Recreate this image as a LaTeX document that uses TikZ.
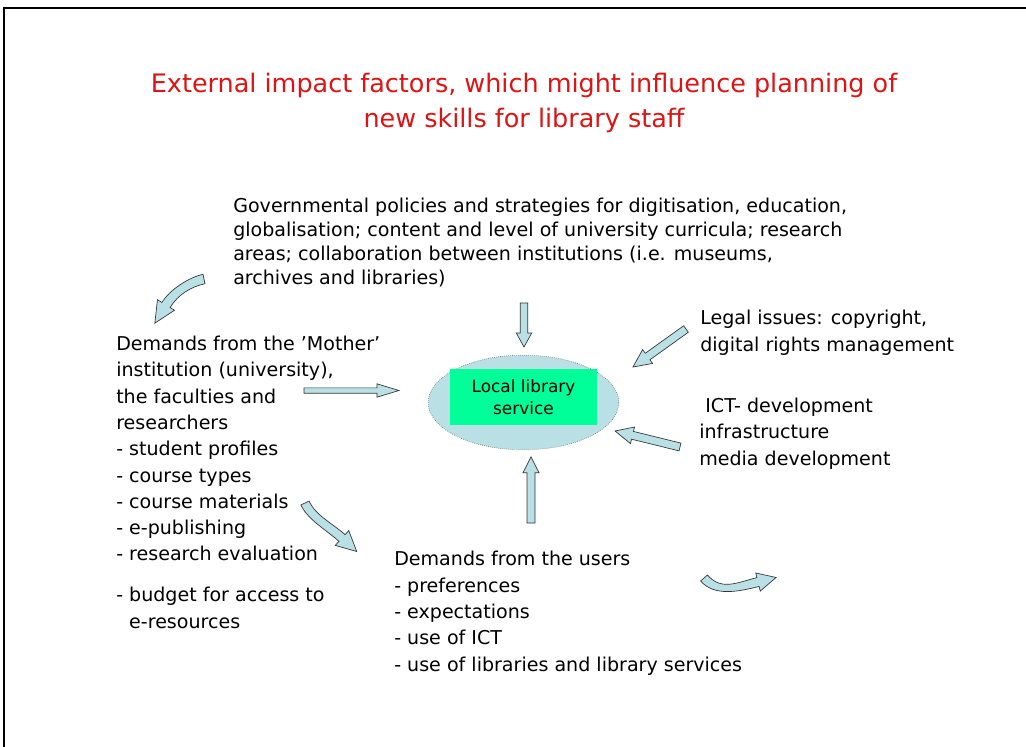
\documentclass[tikz,border=0pt]{standalone}
\usepackage{fontspec}
\setmainfont{DejaVu Sans}
\usetikzlibrary{calc,shapes.geometric}

\definecolor{titlered}{RGB}{220,20,20}
\definecolor{arrowfill}{RGB}{185,224,228}
\definecolor{hubgreen}{RGB}{0,255,153}

% fat outlined arrow along a bezier: start, control 1, control 2, head base,
% shaft half width, head half width, head length
\newcommand{\bentarrow}[7]{%
  \coordinate (ba-s) at (#1);
  \coordinate (ba-a) at (#2);
  \coordinate (ba-b) at (#3);
  \coordinate (ba-e) at (#4);
  \coordinate (ba-sl) at ($(ba-s)!#5!90:(ba-a)$);
  \coordinate (ba-sr) at ($(ba-s)!#5!-90:(ba-a)$);
  \coordinate (ba-al) at ($(ba-a)+(ba-sl)-(ba-s)$);
  \coordinate (ba-ar) at ($(ba-a)+(ba-sr)-(ba-s)$);
  \coordinate (ba-el) at ($(ba-e)!#5!-90:(ba-b)$);
  \coordinate (ba-er) at ($(ba-e)!#5!90:(ba-b)$);
  \coordinate (ba-bl) at ($(ba-b)+(ba-el)-(ba-e)$);
  \coordinate (ba-br) at ($(ba-b)+(ba-er)-(ba-e)$);
  \coordinate (ba-hl) at ($(ba-e)!#6!-90:(ba-b)$);
  \coordinate (ba-hr) at ($(ba-e)!#6!90:(ba-b)$);
  \coordinate (ba-t) at ($(ba-e)!-#7!(ba-b)$);
  \draw[blockarrow] (ba-sl) .. controls (ba-al) and (ba-bl) .. (ba-el) -- (ba-hl)
    -- (ba-t) -- (ba-hr) -- (ba-er) .. controls (ba-br) and (ba-ar) .. (ba-sr) -- cycle;
}

\begin{document}
\begin{tikzpicture}[x=0.75pt,y=-0.75pt,
  blockarrow/.style={fill=arrowfill, draw=black!80, line width=0.5pt, line join=miter},
  txt/.style={anchor=base west, align=left, inner sep=0pt, font=\fontsize{14.3}{19.7}\selectfont},
  title/.style={anchor=base, align=center, inner sep=0pt, text=titlered, font=\fontsize{19.1}{26.2}\selectfont}]
\useasboundingbox (0,0) rectangle (1026,747);
\draw[line width=1.5pt] (4,747) -- (4,7.5) -- (1026,7.5);

% nodes sit on the baseline of their last line
\node[title] (title) at (524,127) {External impact factors, which might influence planning of\\new skills for library staff};

% the library in the middle
\node[ellipse, fill=arrowfill, draw=black!55, densely dotted, line width=0.5pt,
  minimum width=143pt, minimum height=71pt] (hub) at (523.5,402.5) {};
\node[fill=hubgreen, minimum width=110pt, minimum height=42pt, inner sep=0pt, align=center,
  font=\fontsize{12.7}{16.3}\selectfont] (hublabel) at (523.5,397) {Local library\\service};

% outside factors
\node[txt, font=\fontsize{14.3}{18}\selectfont] (gov) at (233,284)
  {Governmental policies and strategies for digitisation, education,\\
   globalisation; content and level of university curricula; research\\
   areas; collaboration between institutions (i.e. museums,\\
   archives and libraries)};
\node[txt] (mother) at (116,628)
  {Demands from the ’Mother’\\
   institution (university),\\
   the faculties and\\
   researchers\\
   - student profiles\\
   - course types\\
   - course materials\\
   - e-publishing\\
   - research evaluation\\[11pt]
   - budget for access to\\
   \hphantom{- }e-resources};
\node[txt] (users) at (394,671)
  {Demands from the users\\
   - preferences\\
   - expectations\\
   - use of ICT\\
   - use of libraries and library services};
\node[txt] (legal) at (700,351) {Legal issues: copyright,\\digital rights management};
\node[txt] (ict) at (699,465) {\ ICT- development\\infrastructure\\media development};

% straight arrows into the hub
\bentarrow{524,303}{524,310}{524,320}{524,333}{2.8pt}{5.8pt}{10.5pt}
\bentarrow{531,523}{531,510}{531,490}{531,472.7}{3pt}{6pt}{11.8pt}
\bentarrow{304,390.5}{320,390.5}{360,390.5}{377,390.5}{2pt}{5pt}{16.5pt}
\bentarrow{686,329}{677.9,334.8}{655.7,350.7}{647.6,356.5}{3pt}{6.4pt}{13.5pt}
\bentarrow{680,447}{670.3,444.6}{642.2,437.7}{632.5,435.3}{3pt}{6.4pt}{13.5pt}

% curved arrows
\bentarrow{204,279}{190,282}{174,292}{166,305}{3.6pt}{7.5pt}{16pt}
\bentarrow{305,503}{312,518}{330,527}{342,538}{3.4pt}{7.5pt}{15pt}
\bentarrow{704,578}{718,594}{738,587}{758,582}{3.4pt}{7pt}{14pt}
\end{tikzpicture}
\end{document}
